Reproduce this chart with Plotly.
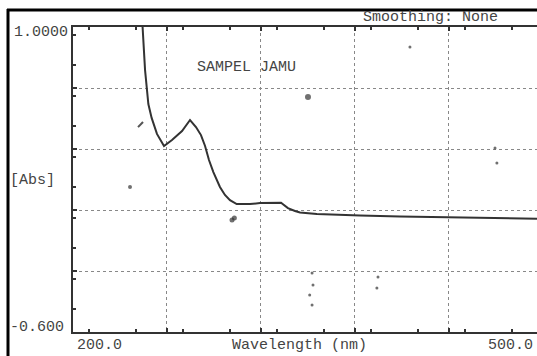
import plotly.graph_objects as go

# ---- data ----
wavelength_nm = [244.0, 246.0, 248.1, 250.2, 253.6, 258.1, 263.2, 269.6, 274.7, 278.5,
                 281.7, 284.3, 286.8, 289.6, 293.8, 297.0, 300.2, 304.5, 313.0, 319.4,
                 332.8, 337.2, 341.7, 344.9, 355.7, 368.5, 383.2, 408.7, 440.6, 472.6, 496.2]
absorbance = [1.06, 0.774, 0.596, 0.523, 0.439, 0.376, 0.407, 0.454, 0.512, 0.475,
              0.433, 0.376, 0.302, 0.239, 0.161, 0.119, 0.092, 0.071, 0.071, 0.077,
              0.078, 0.050, 0.035, 0.027, 0.019, 0.014, 0.011, 0.006, 0.002, -0.002, -0.006]

# printer specks / scan artefacts
speck_x = [350.0, 301.5, 303.0, 236.4, 352.6, 353.2, 351.1, 352.6, 394.7, 394.0, 415.1, 469.4, 470.6]
speck_y = [0.633, -0.012, -0.002, 0.161, -0.291, -0.354, -0.406, -0.458, -0.312, -0.369, 0.895, 0.365, 0.287]
speck_size = [6, 5, 5, 4, 3, 3, 3, 3, 3, 3, 3, 3, 3]
dash_x = [241.5, 244.7]
dash_y = [0.475, 0.502]

x_range = [200.0, 496.2]
y_range = [-0.6, 1.0]
x_tick_labels = ["200.0", "500.0"]
y_tick_labels = ["1.0000", "-0.600"]
x_title = "Wavelength (nm)"
y_title = "[Abs]"
sample_title = "SAMPEL JAMU"
smoothing_text = "Smoothing: None"

FONT = "Liberation Mono, DejaVu Sans Mono, monospace"
TXT = "#444444"

fig = go.Figure()
fig.add_trace(go.Scatter(x=wavelength_nm, y=absorbance, mode="lines",
                         line=dict(color="#333333", width=2), hoverinfo="skip"))
fig.add_trace(go.Scatter(x=dash_x, y=dash_y, mode="lines",
                         line=dict(color="#555555", width=2), hoverinfo="skip"))
fig.add_trace(go.Scatter(x=speck_x, y=speck_y, mode="markers",
                         marker=dict(color="#333333", size=speck_size, line=dict(width=0)),
                         hoverinfo="skip"))

fig.update_layout(
    width=537, height=356,
    margin=dict(l=73, r=0, t=27, b=24),
    paper_bgcolor="white", plot_bgcolor="white",
    showlegend=False,
    xaxis=dict(range=x_range, tick0=200, dtick=60, showticklabels=False,
               showgrid=True, gridcolor="#888888", griddash="dot", gridwidth=1,
               showline=True, linecolor="#333333", linewidth=2, mirror="ticks",
               ticks="inside", ticklen=4, tickcolor="#333333", tickwidth=2,
               minor=dict(dtick=30, ticks="inside", ticklen=3, tickcolor="#333333", showgrid=False),
               zeroline=False, fixedrange=True),
    yaxis=dict(range=y_range, tick0=-0.6, dtick=0.32, showticklabels=False,
               showgrid=True, gridcolor="#888888", griddash="dot", gridwidth=1,
               showline=True, linecolor="#333333", linewidth=2,
               ticks="inside", ticklen=4, tickcolor="#333333", tickwidth=2,
               minor=dict(dtick=0.16, ticks="inside", ticklen=3, tickcolor="#333333", showgrid=False),
               zeroline=False, fixedrange=True),
)

def ann(text, x, y, xanchor="center", yanchor="middle"):
    fig.add_annotation(text=text, x=x, y=y, xref="paper", yref="paper",
                       xanchor=xanchor, yanchor=yanchor, showarrow=False,
                       font=dict(family=FONT, size=15, color=TXT))

def px_x(px):
    return (px - 73) / 464.0

def px_y(py):
    return (332 - py) / 305.0

ann(y_tick_labels[0], px_x(70), px_y(32), xanchor="right")
ann(y_tick_labels[1], px_x(66), px_y(327), xanchor="right")
ann(y_title, px_x(57), px_y(181), xanchor="right")
ann(x_tick_labels[0], px_x(75), px_y(345), xanchor="left")
ann(x_tick_labels[1], px_x(535), px_y(345), xanchor="right")
ann(x_title, px_x(299), px_y(345))
ann(sample_title, px_x(246), px_y(67))
ann(smoothing_text, px_x(430), px_y(18))

# black scan frame (top and left)
fig.add_shape(type="line", xref="paper", yref="paper", x0=px_x(7), x1=px_x(540),
              y0=px_y(10), y1=px_y(10), line=dict(color="black", width=3))
fig.add_shape(type="line", xref="paper", yref="paper", x0=px_x(8), x1=px_x(8),
              y0=px_y(9), y1=px_y(360), line=dict(color="black", width=3))

fig.write_html("out.html", config={"displayModeBar": False})
